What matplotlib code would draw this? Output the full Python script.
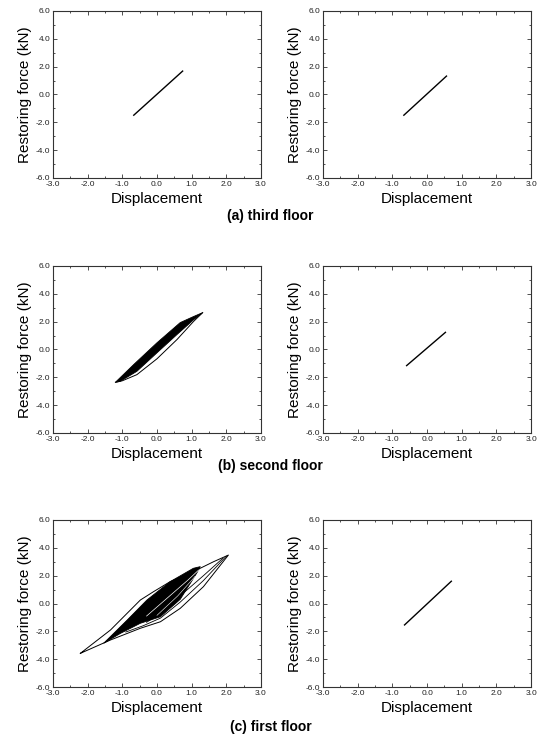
import numpy as np
import matplotlib.pyplot as plt
from matplotlib.ticker import MultipleLocator, FormatStrFormatter

plt.rcParams['font.family'] = ['Liberation Sans', 'DejaVu Sans']
plt.rcParams['axes.unicode_minus'] = False
plt.rcParams['xtick.direction'] = 'in'
plt.rcParams['ytick.direction'] = 'in'

# ---- data (displacement, restoring force kN) ----
# straight (elastic) responses
a_left_x = [-0.67, 0.74]
a_left_y = [-1.49, 1.68]
a_right_x = [-0.67, 0.56]
a_right_y = [-1.49, 1.32]
b_right_x = [-0.59, 0.53]
b_right_y = [-1.16, 1.23]
c_right_x = [-0.65, 0.70]
c_right_y = [-1.54, 1.60]

# second floor, left: dense band of cycles + outer lower branch
b_core_x = [-1.20, -0.67, 0.0, 0.67, 1.05, 1.32, 1.05, 0.58, 0.0, -0.58, -1.06, -1.20]
b_core_y = [-2.36, -1.08, 0.48, 1.93, 2.36, 2.65, 2.12, 1.08, -0.24, -1.57, -2.29, -2.36]
b_outer_x = [1.32, 1.05, 0.58, 0.0, -0.58, -1.00, -1.20]
b_outer_y = [2.65, 2.00, 0.72, -0.67, -1.81, -2.25, -2.36]

# first floor, left: outer loop, intermediate loops, dense band
c_outer_x = [-2.21, -1.34, -0.48, -0.10, 0.38, 1.05, 1.63, 2.06,
             1.34, 0.67, 0.10, -0.48, -1.34, -2.21]
c_outer_y = [-3.58, -1.90, 0.25, 0.85, 1.57, 2.29, 3.00, 3.48,
             1.21, -0.35, -1.31, -1.78, -2.62, -3.58]
c_loop2_x = [2.00, 1.34, 0.67, 0.10, -0.40, -0.90]
c_loop2_y = [3.40, 1.65, 0.10, -1.05, -1.60, -2.05]
c_loop3_x = [1.90, 1.34, 0.67, 0.10, -0.30]
c_loop3_y = [3.25, 2.00, 0.55, -0.70, -1.35]
c_core_x = [-1.54, -0.86, -0.29, 0.38, 1.05, 1.25, 1.15, 0.67, 0.10, -0.48, -1.05, -1.54]
c_core_y = [-2.86, -1.19, 0.25, 1.57, 2.53, 2.65, 2.20, 0.30, -0.95, -1.42, -2.14, -2.86]
c_streak_x = [-0.30, 0.30, 0.90, 1.20]
c_streak_y = [-0.90, 0.40, 1.70, 2.40]
c_streak2_x = [0.00, 0.60, 1.10]
c_streak2_y = [-0.85, 0.55, 1.95]

titles = ['(a) third floor', '(b) second floor', '(c) first floor']

fig = plt.figure(figsize=(5.43, 7.40), dpi=100)

lefts = [0.0976, 0.595]
bottoms = [0.7595, 0.4149, 0.0716]
w, h = 0.383, 0.2257


def style(ax):
    ax.set_xlim(-3, 3)
    ax.set_ylim(-6, 6)
    ax.xaxis.set_major_locator(MultipleLocator(1.0))
    ax.yaxis.set_major_locator(MultipleLocator(2.0))
    ax.xaxis.set_minor_locator(MultipleLocator(0.5))
    ax.yaxis.set_minor_locator(MultipleLocator(1.0))
    ax.xaxis.set_major_formatter(FormatStrFormatter('%.1f'))
    ax.yaxis.set_major_formatter(FormatStrFormatter('%.1f'))
    ax.tick_params(which='both', top=True, right=True, labelsize=6, width=0.6, color='#333333',
                   labelcolor='#222222')
    ax.tick_params(which='major', length=3, pad=2)
    ax.tick_params(which='minor', length=1.5)
    for s in ax.spines.values():
        s.set_linewidth(0.8)
        s.set_color('#333333')
    ax.set_xlabel('Displacement', fontsize=11, labelpad=3)
    ax.set_ylabel('Restoring force (kN)', fontsize=11, labelpad=3)


axes = [[fig.add_axes([l, b, w, h]) for l in lefts] for b in bottoms]
for row in axes:
    for ax in row:
        style(ax)

axes[0][0].plot(a_left_x, a_left_y, color='black', lw=1.0)
axes[0][1].plot(a_right_x, a_right_y, color='black', lw=1.0)

axes[1][0].fill(b_core_x, b_core_y, color='black', lw=0.6)
axes[1][0].plot(b_outer_x, b_outer_y, color='black', lw=0.7)
axes[1][1].plot(b_right_x, b_right_y, color='black', lw=1.0)

axes[2][0].plot(c_outer_x, c_outer_y, color='black', lw=0.7)
axes[2][0].plot(c_loop2_x, c_loop2_y, color='black', lw=0.6)
axes[2][0].plot(c_loop3_x, c_loop3_y, color='black', lw=0.6)
axes[2][0].fill(c_core_x, c_core_y, color='black', lw=0.6)
axes[2][0].plot(c_streak_x, c_streak_y, color='white', lw=0.5)
axes[2][0].plot(c_streak2_x, c_streak2_y, color='white', lw=0.4)
axes[2][1].plot(c_right_x, c_right_y, color='black', lw=1.0)

title_y = [1 - 216 / 740, 1 - 466 / 740, 1 - 727 / 740]
for t, y in zip(titles, title_y):
    fig.text(0.498, y, t, ha='center', va='center', fontsize=10, fontweight='bold')

fig.savefig('out.png', dpi=100)
